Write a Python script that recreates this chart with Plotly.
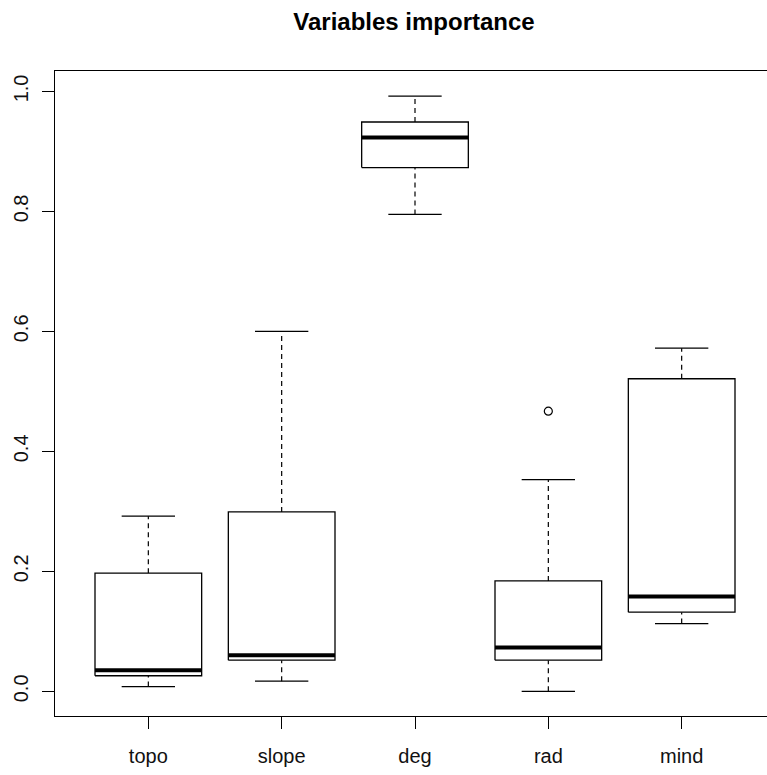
import plotly.graph_objects as go

categories = ["topo", "slope", "deg", "rad", "mind"]
lower = [0.008, 0.017, 0.795, 0.000, 0.113]
q1 = [0.026, 0.052, 0.873, 0.052, 0.132]
median = [0.035, 0.060, 0.923, 0.073, 0.158]
q3 = [0.197, 0.299, 0.949, 0.184, 0.521]
upper = [0.292, 0.600, 0.992, 0.353, 0.572]
outlier_cat = ["rad"]
outlier_val = [0.467]
y_ticks = [0.0, 0.2, 0.4, 0.6, 0.8, 1.0]
title = "Variables importance"

BOXW = 0.4   # half box width
CAPW = 0.2   # half staple width
FONT = "Liberation Sans, Arial, sans-serif"

fig = go.Figure()
for i, cat in enumerate(categories):
    c = i + 1
    # whiskers (dashed)
    fig.add_trace(go.Scatter(x=[c, c, None, c, c], y=[lower[i], q1[i], None, q3[i], upper[i]],
                             mode="lines", line=dict(color="black", width=1.2, dash="5px,4px"),
                             hoverinfo="skip", showlegend=False))
    # staples
    fig.add_trace(go.Scatter(x=[c - CAPW, c + CAPW, None, c - CAPW, c + CAPW],
                             y=[lower[i], lower[i], None, upper[i], upper[i]],
                             mode="lines", line=dict(color="black", width=1.2),
                             hoverinfo="skip", showlegend=False))
    # box
    fig.add_trace(go.Scatter(x=[c - BOXW, c + BOXW, c + BOXW, c - BOXW, c - BOXW],
                             y=[q1[i], q1[i], q3[i], q3[i], q1[i]],
                             mode="lines", line=dict(color="black", width=1.3),
                             fill="toself", fillcolor="white",
                             hoverinfo="skip", showlegend=False))
    # median
    fig.add_trace(go.Scatter(x=[c - BOXW, c + BOXW], y=[median[i], median[i]],
                             mode="lines", line=dict(color="black", width=4),
                             hoverinfo="skip", showlegend=False))

fig.add_trace(go.Scatter(x=[categories.index(o) + 1 for o in outlier_cat], y=outlier_val,
                         mode="markers",
                         marker=dict(symbol="circle-open", size=8, color="black", line=dict(width=1.2)),
                         hoverinfo="skip", showlegend=False))

fig.update_layout(
    width=767, height=775,
    margin=dict(l=55, r=0, t=71, b=59),
    paper_bgcolor="white", plot_bgcolor="white",
    font=dict(family=FONT, size=20, color="black"),
    title=dict(text="<b>" + title + "</b>", font=dict(size=24, family=FONT, color="black"),
               x=414 / 767, xref="container", xanchor="center",
               y=1 - 22 / 775, yref="container", yanchor="middle"),
    xaxis=dict(range=[0.3, 5.64], tickvals=[1, 2, 3, 4, 5], ticktext=categories,
               showgrid=False, zeroline=False, showline=True, mirror=True,
               linecolor="black", linewidth=1.2, ticks="outside", ticklen=12,
               tickcolor="black", tickwidth=1.2, ticklabelstandoff=10,
               tickfont=dict(size=20, color="#111")),
    yaxis=dict(range=[-0.0411, 1.034], tickvals=y_ticks,
               ticktext=[f"{v:.1f}" for v in y_ticks],
               showgrid=False, zeroline=False, showline=True, mirror=False,
               linecolor="black", linewidth=1.2, ticks="outside", ticklen=12,
               tickcolor="black", tickwidth=1.2, tickangle=-90, ticklabelstandoff=6,
               tickfont=dict(size=20, color="#111")),
)

fig.write_html("out.html", config={"displayModeBar": False},
               post_script="document.body.style.margin='0';document.body.style.overflow='hidden';")
